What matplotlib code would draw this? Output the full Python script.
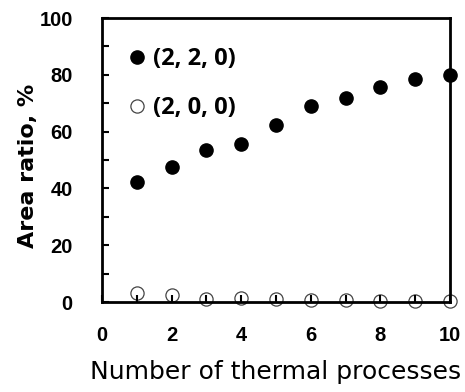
import matplotlib
matplotlib.use('Agg')
import matplotlib.pyplot as plt
from matplotlib.ticker import MultipleLocator

# data
cycles = [1, 2, 3, 4, 5, 6, 7, 8, 9, 10]
ratio_220 = [42.4, 47.6, 53.5, 55.6, 62.3, 69.0, 71.7, 75.6, 78.6, 79.9]
ratio_200 = [3.0, 2.5, 1.2, 1.4, 1.2, 0.8, 0.6, 0.5, 0.3, 0.3]

plt.rcParams['font.family'] = ['Liberation Sans', 'DejaVu Sans']

fig = plt.figure(figsize=(4.65, 3.92), dpi=100)
ax = fig.add_axes([102 / 465, 1 - 302 / 392, 348 / 465, 284 / 392])

ax.plot(cycles, ratio_220, 'o', color='black', markersize=9.5, clip_on=False,
        label='(2, 2, 0)', zorder=3)
ax.plot(cycles, ratio_200, 'o', markerfacecolor='white', markeredgecolor='#444444',
        markeredgewidth=0.9, markersize=9.5, clip_on=False, label='(2, 0, 0)', zorder=1)

ax.set_xlim(0, 10)
ax.set_ylim(0, 100)
ax.xaxis.set_major_locator(MultipleLocator(2))
ax.xaxis.set_minor_locator(MultipleLocator(1))
ax.yaxis.set_major_locator(MultipleLocator(20))
ax.yaxis.set_minor_locator(MultipleLocator(10))
ax.tick_params(which='both', direction='in', width=1.5, length=5.3, labelsize=14.5)
ax.tick_params(axis='x', pad=17)
ax.tick_params(axis='y', pad=21)
for lbl in ax.get_xticklabels() + ax.get_yticklabels():
    lbl.set_fontweight('bold')
for sp in ax.spines.values():
    sp.set_linewidth(2)
    sp.set_zorder(2)

ax.set_ylabel('Area ratio, %', fontsize=16, fontweight='bold', family='DejaVu Sans')
ax.yaxis.set_label_coords(-0.185, 0.48)
ax.set_xlabel('Number of thermal processes', fontsize=18, family='DejaVu Sans',
              labelpad=11)

leg = ax.legend(loc='upper left', bbox_to_anchor=(0.04, 0.93), frameon=False,
                handletextpad=0.15, handlelength=1.0, borderaxespad=0.0,
                labelspacing=1.05, markerscale=1.0,
                prop={'family': 'Open Sans', 'weight': 'bold', 'size': 17})

fig.savefig('out.png', dpi=100)
